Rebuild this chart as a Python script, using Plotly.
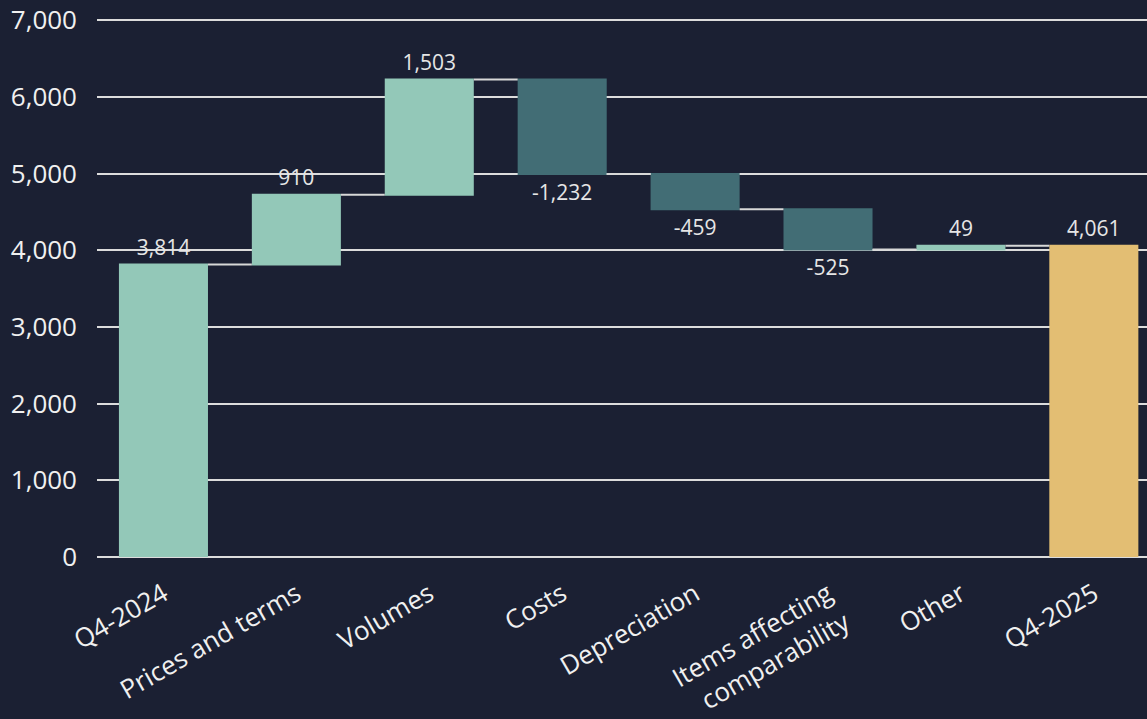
import plotly.graph_objects as go

categories = ["Q4-2024", "Prices and terms", "Volumes", "Costs", "Depreciation",
              "Items affecting<br>comparability", "Other", "Q4-2025"]
values = [3814, 910, 1503, -1232, -459, -525, 49, 0]
measures = ["relative", "relative", "relative", "relative", "relative", "relative", "relative", "total"]
labels = ["3,814", "910", "1,503", "-1,232", "-459", "-525", "49", "4,061"]

BG = "#1b2033"
FONT = "Open Sans"

fig = go.Figure(go.Waterfall(
    x=categories,
    y=values,
    measure=measures,
    text=labels,
    textposition="outside",
    textfont=dict(color="#e6e6e6", size=21, family=FONT),
    increasing=dict(marker=dict(color="#93c8b8")),
    decreasing=dict(marker=dict(color="#426d75")),
    totals=dict(marker=dict(color="#e3be73")),
    connector=dict(line=dict(color="#d8d8d8", width=2)),
    width=0.67,
    cliponaxis=False,
))

fig.update_layout(
    width=1147, height=719,
    paper_bgcolor=BG, plot_bgcolor=BG,
    margin=dict(l=97, r=0, t=18, b=162),
    font=dict(family=FONT, color="#f0f0f0"),
    showlegend=False,
    xaxis=dict(range=[-0.5, 7.4], tickangle=-30, automargin=False,
               tickfont=dict(size=26, color="#f0f0f0"),
               showgrid=False, showline=False, zeroline=False, ticklabelstandoff=16),
    yaxis=dict(range=[0, 7030], tick0=0, dtick=1000, tickformat=",", automargin=False,
               tickfont=dict(size=26, color="#f0f0f0"),
               gridcolor="#dcdcdc", gridwidth=2, zeroline=True, zerolinecolor="#dcdcdc",
               zerolinewidth=2, ticklabelstandoff=19),
)

fig.write_html("out.html", config={"displayModeBar": False},
               post_script="document.body.style.margin='0';document.body.style.background='%s';" % BG)
